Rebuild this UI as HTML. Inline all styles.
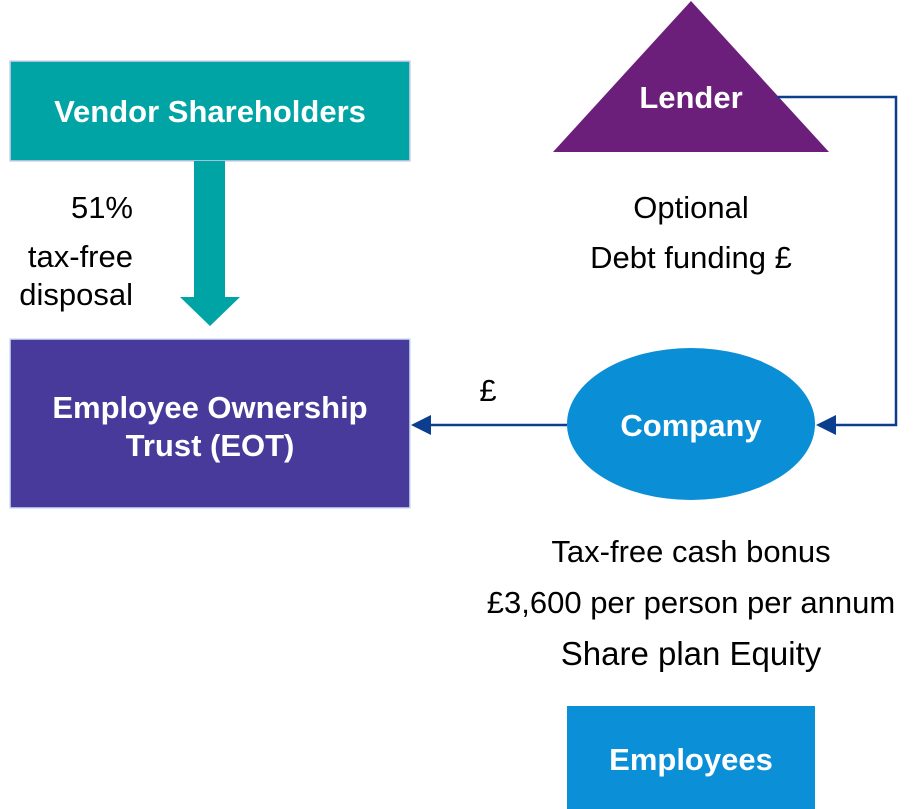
<!DOCTYPE html>
<html><head><meta charset="utf-8"><style>
html,body{margin:0;padding:0;background:#fff;width:917px;height:809px;overflow:hidden}
svg{display:block}
text{font-family:"Liberation Sans",Arial,sans-serif}
</style></head><body>
<svg width="917" height="809" viewBox="0 0 917 809" xmlns="http://www.w3.org/2000/svg">
<rect x="10" y="61" width="400" height="100" fill="#00A4A4" stroke="#d8d0ee" stroke-width="1.5"/>
<text x="210" y="122" font-size="31" font-weight="bold" fill="#fff" text-anchor="middle">Vendor Shareholders</text>
<polygon points="194,161 225,161 225,297 240,297 210,326 180,297 194,297" fill="#00A4A4"/>
<text x="133" y="218" font-size="31" text-anchor="end" fill="#000">51%</text>
<text x="133" y="267" font-size="31" text-anchor="end" fill="#000">tax-free</text>
<text x="133" y="305" font-size="31" text-anchor="end" fill="#000">disposal</text>
<rect x="10" y="339" width="400" height="169" fill="#473A9A" stroke="#cfe0f4" stroke-width="1.5"/>
<text x="210" y="418" font-size="31" font-weight="bold" fill="#fff" text-anchor="middle">Employee Ownership</text>
<text x="210" y="456" font-size="31" font-weight="bold" fill="#fff" text-anchor="middle">Trust (EOT)</text>
<polygon points="691,1 829,152 553,152" fill="#6B1F7A"/>
<text x="691" y="108" font-size="31" font-weight="bold" fill="#fff" text-anchor="middle">Lender</text>
<polyline points="777,97 896,97 896,425 832,425" fill="none" stroke="#0B3E8E" stroke-width="2.5"/>
<polygon points="816,425 836,415 836,435" fill="#0B3E8E"/>
<text x="691" y="218" font-size="31" text-anchor="middle" fill="#000">Optional</text>
<text x="691" y="268" font-size="31" text-anchor="middle" fill="#000">Debt funding £</text>
<ellipse cx="691" cy="424" rx="124" ry="76" fill="#0A8FD6"/>
<text x="691" y="436" font-size="31" font-weight="bold" fill="#fff" text-anchor="middle">Company</text>
<line x1="567" y1="425" x2="428" y2="425" stroke="#0B3E8E" stroke-width="2.5"/>
<polygon points="411,425 431,415 431,435" fill="#0B3E8E"/>
<text x="488" y="401" font-size="31" text-anchor="middle" fill="#000">£</text>
<text x="691" y="562" font-size="31" text-anchor="middle" fill="#000">Tax-free cash bonus</text>
<text x="691" y="613" font-size="31" text-anchor="middle" fill="#000">£3,600 per person per annum</text>
<text x="691" y="665" font-size="33" text-anchor="middle" fill="#000">Share plan Equity</text>
<rect x="567" y="706" width="248" height="110" fill="#0B8FD6"/>
<text x="691" y="770" font-size="31" font-weight="bold" fill="#fff" text-anchor="middle">Employees</text>
</svg>
</body></html>
